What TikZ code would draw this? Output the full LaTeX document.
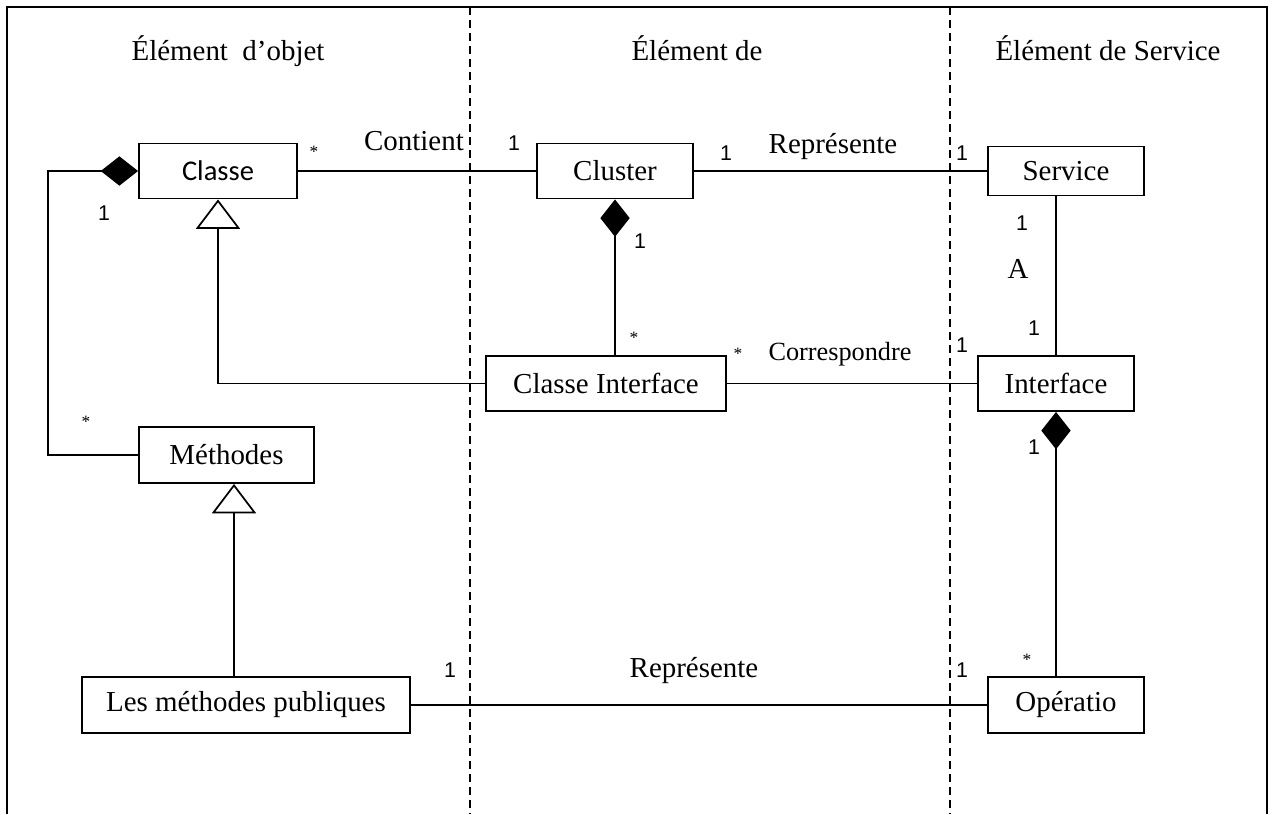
\documentclass[tikz,border=0pt]{standalone}
\usepackage{fontspec}
\setmainfont{Liberation Serif}
\newfontfamily\calibrifont{Carlito}
\newfontfamily\arialfont{Liberation Sans}
\usetikzlibrary{arrows.meta}

\tikzset{every picture/.style={line width=1.3pt}}
\tikzset{
  classbox/.style={draw, line width=1.4pt, inner sep=0pt, fill=white},
  mult/.style={anchor=base, inner sep=0pt, font=\arialfont\fontsize{16}{16}\selectfont},
  rolename/.style={anchor=base, inner sep=0pt},
  manymark/.style={inner sep=0pt, font=\fontsize{13}{13}\selectfont},
  compo/.style={-{Diamond[length=28pt,width=22pt]}},
  gener/.style={-{Triangle[open,length=22pt,width=33pt]}},
  lane/.style={line width=1pt, dash pattern={on 6pt off 3.75pt}}
}

\begin{document}
\begin{tikzpicture}[x=0.75pt,y=0.75pt,yscale=-1,xscale=1,font=\fontsize{21.7}{26}\selectfont]
\useasboundingbox (0,0) rectangle (1274,814);

%Frame
\draw [line width=1.5pt] (7,814) -- (7,7) -- (1267,7) -- (1267,814) ;
%Lanes
\draw [lane] (470,7) -- (470,814) ;
\draw [lane] (950,7) -- (950,814) ;

% Text Node
\node (titleObj) [rolename] at (228,60) {Élément\ \ d’objet};
% Text Node
\node (titleMid) [rolename] at (697,60) {Élément de};
% Text Node
\node (titleSrv) [rolename] at (1108,60) {Élément de Service};

%Shape: Rectangle
\node (Classe) [classbox, minimum width=118.5pt, minimum height=41.25pt, font=\calibrifont\fontsize{21.4}{26}\selectfont] at (218,171) {Classe};
%Shape: Rectangle
\node (Cluster) [classbox, minimum width=117pt, minimum height=41.25pt] at (615,171) {Cluster};
%Shape: Rectangle
\node (Service) [classbox, minimum width=117pt, minimum height=36.75pt] at (1066,171) {Service};
%Shape: Rectangle
\node (ClInterface) [classbox, minimum width=180pt, minimum height=41.25pt] at (606,383.5) {Classe Interface};
%Shape: Rectangle
\node (Interface) [classbox, minimum width=117pt, minimum height=41.25pt] at (1056,383.5) {Interface};
%Shape: Rectangle
\node (Methodes) [classbox, minimum width=131.25pt, minimum height=42pt] at (226.5,455) {Méthodes};
%Shape: Rectangle
\node (MethPub) [classbox, minimum width=246pt, minimum height=42pt] at (246,705) {Les méthodes publiques};
%Shape: Rectangle
\node (Operatio) [classbox, minimum width=117pt, minimum height=42pt] at (1066,705) {Opératio};

\coordinate (rail) at (48,455);

%Straight Lines
\draw (Classe.east) -- (Cluster.west) ;
\draw (Cluster.east) -- (Service.west) ;
\draw (Interface.north) -- (Interface.north |- Service.south) ;
\draw (ClInterface.east) -- (Interface.west) ;
\draw (MethPub.east) -- (Operatio.west) ;
%Composition
\draw [compo] (Methodes.west) -- (rail) |- (Classe.west) ;
\draw [compo] (Cluster.south |- ClInterface.north) -- (Cluster.south) ;
\draw [compo] (Operatio.north -| Interface.south) -- (Interface.south) ;
%Generalization
\draw [gener] (ClInterface.west) -| (Classe.south) ;
\draw [gener] ([xshift=-9pt]MethPub.north) -- ([xshift=-9pt]MethPub.north |- Methodes.south) ;

% Text Node
\node (lblContient) [rolename] at (414,150) {Contient};
% Text Node
\node (lblRepTop) [rolename] at (833,153) {Représente};
% Text Node
\node (lblCorresp) [rolename, font=\fontsize{19.7}{24}\selectfont] at (840,360) {Correspondre};
% Text Node
\node (lblA) [rolename] at (1018,278) {A};
% Text Node
\node (lblRepBot) [rolename] at (694,677) {Représente};

% Multiplicities
\node (m1) [mult] at (104,220) {1};
\node (m2) [mult] at (514,150) {1};
\node (m3) [mult] at (726,160) {1};
\node (m4) [mult] at (962,160) {1};
\node (m5) [mult] at (640,248) {1};
\node (m6) [mult] at (1022,230) {1};
\node (m7) [mult] at (1034,335) {1};
\node (m8) [mult] at (962,352) {1};
\node (m9) [mult] at (1034,454) {1};
\node (m10) [mult] at (450,677) {1};
\node (m11) [mult] at (962,677) {1};
\node (s1) [manymark] at (314,152) {*};
\node (s2) [manymark] at (634,338) {*};
\node (s3) [manymark] at (738,354) {*};
\node (s4) [manymark] at (86,422) {*};
\node (s5) [manymark] at (1027,660) {*};

\end{tikzpicture}
\end{document}
